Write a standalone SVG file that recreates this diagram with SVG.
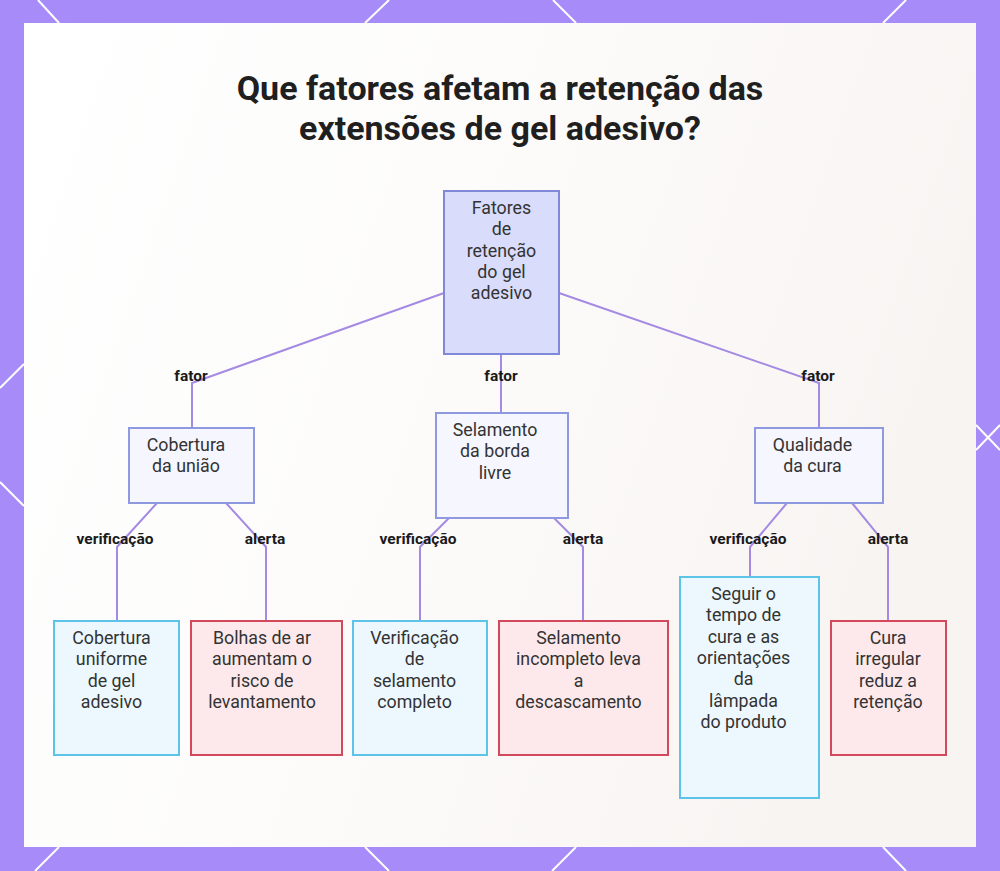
<svg xmlns="http://www.w3.org/2000/svg" width="1000" height="871" viewBox="0 0 1000 871">
  <defs>
    <linearGradient id="bg" x1="0" y1="0" x2="1" y2="0.3">
      <stop offset="0" stop-color="#ffffff"/>
      <stop offset="0.55" stop-color="#fcfbfa"/>
      <stop offset="1" stop-color="#f8f4f2"/>
    </linearGradient>
    <style>
      .frame-line { stroke: #ffffff; stroke-width: 2; fill: none; }
      .title { font-family: Roboto, "Liberation Sans", sans-serif; font-weight: 700; font-size: 34px; fill: #1f1f1f; text-anchor: middle; }
      .t { font-family: Roboto, "Liberation Sans", sans-serif; font-size: 17.8px; fill: #333333; text-anchor: middle; }
      .lbl { font-family: Roboto, "Liberation Sans", sans-serif; font-weight: 700; font-size: 15.5px; fill: #1a1a1a; text-anchor: middle; }
      .edge { stroke: #a48ae2; stroke-width: 2; fill: none; }
      .root { fill: #d9dcfb; stroke: #7f89d8; stroke-width: 2; }
      .mid { fill: #f5f6fe; stroke: #8e99e0; stroke-width: 2; }
      .ok { fill: #ecf8fe; stroke: #5ec3e8; stroke-width: 2; }
      .warn { fill: #fde9ec; stroke: #d4485b; stroke-width: 2; }
    </style>
  </defs>

  <!-- frame -->
  <rect x="0" y="0" width="1000" height="871" fill="#a68bf9"/>
  <g class="frame-line">
    <line x1="38" y1="0" x2="59" y2="23"/>
    <line x1="389" y1="0" x2="365" y2="23"/>
    <line x1="553" y1="0" x2="576" y2="23"/>
    <line x1="906" y1="0" x2="883" y2="23"/>
    <line x1="59" y1="847" x2="35" y2="871"/>
    <line x1="365" y1="847" x2="389" y2="871"/>
    <line x1="576" y1="847" x2="552" y2="871"/>
    <line x1="883" y1="847" x2="906" y2="871"/>
    <line x1="0" y1="388" x2="24" y2="364"/>
    <line x1="0" y1="482" x2="24" y2="506"/>
    <line x1="976" y1="425" x2="1000" y2="450"/>
    <line x1="976" y1="450" x2="1000" y2="425"/>
  </g>
  <rect x="24" y="23" width="952" height="824" fill="url(#bg)"/>

  <!-- title -->
  <g id="title">
    <text class="title" x="500" y="100">Que fatores afetam a retenção das</text>
    <text class="title" x="500" y="140">extensões de gel adesivo?</text>
  </g>

  <!-- connectors -->
  <g id="connectors">
    <polyline class="edge" points="444,293 192,383 192,428"/>
    <polyline class="edge" points="501,354 501,413"/>
    <polyline class="edge" points="559,293 819,383 819,428"/>

    <polyline class="edge" points="157,503 117,547 117,621"/>
    <polyline class="edge" points="226,503 266,547 266,621"/>
    <polyline class="edge" points="449,518 420,547 420,621"/>
    <polyline class="edge" points="554,518 583,547 583,621"/>
    <polyline class="edge" points="787,503 750,547 750,577"/>
    <polyline class="edge" points="852,503 888,547 888,621"/>

    <text class="lbl" x="191" y="381">fator</text>
    <text class="lbl" x="501" y="381">fator</text>
    <text class="lbl" x="818" y="381">fator</text>
    <text class="lbl" x="115" y="544">verificação</text>
    <text class="lbl" x="265" y="544">alerta</text>
    <text class="lbl" x="418" y="544">verificação</text>
    <text class="lbl" x="583" y="544">alerta</text>
    <text class="lbl" x="748" y="544">verificação</text>
    <text class="lbl" x="888" y="544">alerta</text>
  </g>

  <!-- root -->
  <g id="root">
    <rect class="root" x="444" y="191" width="115" height="163"/>
    <text class="t" x="501.5" y="214">Fatores</text>
    <text class="t" x="501.5" y="235.3">de</text>
    <text class="t" x="501.5" y="256.6">retenção</text>
    <text class="t" x="501.5" y="277.9">do gel</text>
    <text class="t" x="501.5" y="299.2">adesivo</text>
  </g>

  <!-- level 2 -->
  <g id="cobertura-uniao">
    <rect class="mid" x="129" y="428" width="125" height="75"/>
    <text class="t" x="186" y="451">Cobertura</text>
    <text class="t" x="186" y="472.3">da união</text>
  </g>
  <g id="selamento-borda">
    <rect class="mid" x="436" y="413" width="132" height="105"/>
    <text class="t" x="495" y="436">Selamento</text>
    <text class="t" x="495" y="457.3">da borda</text>
    <text class="t" x="495" y="478.6">livre</text>
  </g>
  <g id="qualidade-cura">
    <rect class="mid" x="755" y="428" width="128" height="75"/>
    <text class="t" x="812.5" y="451">Qualidade</text>
    <text class="t" x="812.5" y="472.3">da cura</text>
  </g>

  <!-- leaves -->
  <g id="cobertura-uniforme">
    <rect class="ok" x="54" y="621" width="125" height="134"/>
    <text class="t" x="111.5" y="644">Cobertura</text>
    <text class="t" x="111.5" y="665.3">uniforme</text>
    <text class="t" x="111.5" y="686.6">de gel</text>
    <text class="t" x="111.5" y="707.9">adesivo</text>
  </g>
  <g id="bolhas">
    <rect class="warn" x="191" y="621" width="151" height="134"/>
    <text class="t" x="262" y="644">Bolhas de ar</text>
    <text class="t" x="262" y="665.3">aumentam o</text>
    <text class="t" x="262" y="686.6">risco de</text>
    <text class="t" x="262" y="707.9">levantamento</text>
  </g>
  <g id="verificacao-selamento">
    <rect class="ok" x="353" y="621" width="134" height="134"/>
    <text class="t" x="414.5" y="644">Verificação</text>
    <text class="t" x="414.5" y="665.3">de</text>
    <text class="t" x="414.5" y="686.6">selamento</text>
    <text class="t" x="414.5" y="707.9">completo</text>
  </g>
  <g id="selamento-incompleto">
    <rect class="warn" x="499" y="621" width="169" height="134"/>
    <text class="t" x="578.5" y="644">Selamento</text>
    <text class="t" x="578.5" y="665.3">incompleto leva</text>
    <text class="t" x="578.5" y="686.6">a</text>
    <text class="t" x="578.5" y="707.9">descascamento</text>
  </g>
  <g id="seguir-tempo">
    <rect class="ok" x="680" y="577" width="139" height="221"/>
    <text class="t" x="743.5" y="600">Seguir o</text>
    <text class="t" x="743.5" y="621.3">tempo de</text>
    <text class="t" x="743.5" y="642.6">cura e as</text>
    <text class="t" x="743.5" y="663.9">orientações</text>
    <text class="t" x="743.5" y="685.2">da</text>
    <text class="t" x="743.5" y="706.5">lâmpada</text>
    <text class="t" x="743.5" y="727.8">do produto</text>
  </g>
  <g id="cura-irregular">
    <rect class="warn" x="831" y="621" width="115" height="134"/>
    <text class="t" x="888" y="644">Cura</text>
    <text class="t" x="888" y="665.3">irregular</text>
    <text class="t" x="888" y="686.6">reduz a</text>
    <text class="t" x="888" y="707.9">retenção</text>
  </g>
</svg>
